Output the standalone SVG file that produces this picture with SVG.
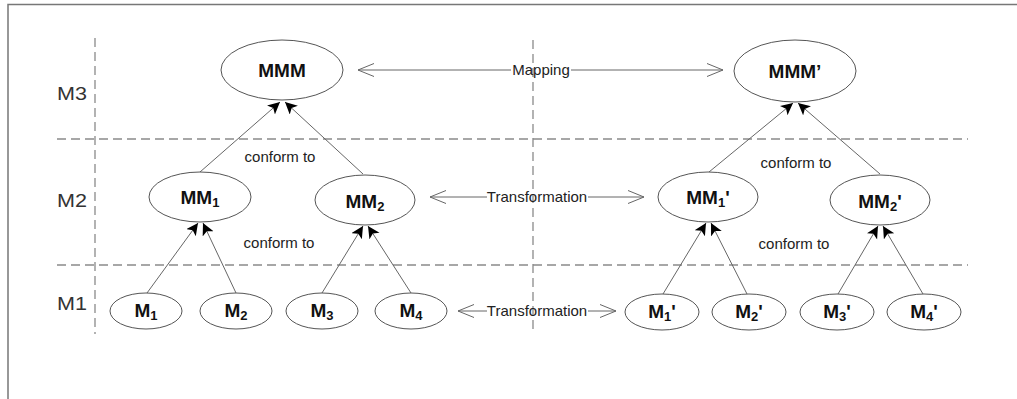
<svg xmlns="http://www.w3.org/2000/svg" width="1017" height="399" viewBox="0 0 1017 399">
<style>
.frame{fill:none;stroke:#777;stroke-width:1.5}
.dash{fill:none;stroke:#8a8a8a;stroke-width:1.3;stroke-dasharray:9 5}
.node ellipse{fill:#fff;stroke:#555;stroke-width:1}
.lbl{font-family:"Liberation Sans",Arial,sans-serif;font-weight:bold;font-size:19px;fill:#111;text-anchor:middle}
.sub{font-size:13px}
.lvl{font-family:"Liberation Sans",Arial,sans-serif;font-size:19px;fill:#333}
.small{font-family:"Liberation Sans",Arial,sans-serif;font-size:15px;fill:#222;text-anchor:middle}
.conn{fill:none;stroke:#666;stroke-width:1}
.harr{fill:none;stroke:#666;stroke-width:1}
</style>
<defs>
<marker id="fa" markerUnits="userSpaceOnUse" markerWidth="16" markerHeight="14" refX="12" refY="6" orient="auto">
<path d="M0,0 L12,6 L0,12 L3,6 Z" fill="#000"/>
</marker>
<marker id="oa" markerUnits="userSpaceOnUse" markerWidth="18" markerHeight="16" refX="16" refY="7" orient="auto-start-reverse">
<path d="M0,0.5 L16,7 L0,13.5" fill="none" stroke="#666" stroke-width="1"/>
</marker>
</defs>
<g id="frame">
<path class="frame" d="M8,399 L8,4.5 L1017,4.5"/>
</g>
<g id="grid">
<line class="dash" x1="95" y1="38" x2="95" y2="334"/>
<line class="dash" x1="533" y1="40" x2="533" y2="334"/>
<line class="dash" x1="57" y1="139" x2="968" y2="139"/>
<line class="dash" x1="57" y1="265" x2="968" y2="265"/>
<text class="lvl" x="57" y="100" textLength="30" lengthAdjust="spacingAndGlyphs">M3</text>
<text class="lvl" x="57" y="207" textLength="30" lengthAdjust="spacingAndGlyphs">M2</text>
<text class="lvl" x="57" y="310" textLength="30" lengthAdjust="spacingAndGlyphs">M1</text>
</g>
<g id="connectors">
<line class="conn" x1="200" y1="172" x2="280" y2="102" marker-end="url(#fa)"/>
<line class="conn" x1="363" y1="174" x2="285" y2="102" marker-end="url(#fa)"/>
<line class="conn" x1="147" y1="293" x2="198" y2="223" marker-end="url(#fa)"/>
<line class="conn" x1="236" y1="293" x2="203" y2="223" marker-end="url(#fa)"/>
<line class="conn" x1="322" y1="293" x2="363" y2="226" marker-end="url(#fa)"/>
<line class="conn" x1="411" y1="293" x2="368" y2="226" marker-end="url(#fa)"/>
<line class="conn" x1="709" y1="172" x2="793" y2="103" marker-end="url(#fa)"/>
<line class="conn" x1="880" y1="174" x2="798" y2="103" marker-end="url(#fa)"/>
<line class="conn" x1="663" y1="294" x2="706" y2="223" marker-end="url(#fa)"/>
<line class="conn" x1="747" y1="294" x2="711" y2="223" marker-end="url(#fa)"/>
<line class="conn" x1="838" y1="294" x2="878" y2="226" marker-end="url(#fa)"/>
<line class="conn" x1="923" y1="294" x2="883" y2="226" marker-end="url(#fa)"/>
<text class="small" x="280" y="162">conform to</text>
<text class="small" x="279" y="248">conform to</text>
<text class="small" x="796" y="168">conform to</text>
<text class="small" x="794" y="249">conform to</text>
<line class="harr" x1="358" y1="70" x2="511" y2="70" marker-start="url(#oa)"/>
<line class="harr" x1="571" y1="70" x2="723" y2="70" marker-end="url(#oa)"/>
<text class="small" x="541" y="75">Mapping</text>
<line class="harr" x1="430" y1="197" x2="487" y2="197" marker-start="url(#oa)"/>
<line class="harr" x1="588" y1="197" x2="644" y2="197" marker-end="url(#oa)"/>
<text class="small" x="537" y="202">Transformation</text>
<line class="harr" x1="458" y1="311" x2="487" y2="311" marker-start="url(#oa)"/>
<line class="harr" x1="588" y1="311" x2="616" y2="311" marker-end="url(#oa)"/>
<text class="small" x="537" y="316">Transformation</text>
</g>
<g id="MMM" class="node"><ellipse cx="282" cy="70" rx="61" ry="30"/><text class="lbl" x="282" y="77">MMM</text></g>
<g id="MMMp" class="node"><ellipse cx="795" cy="71" rx="61" ry="31"/><text class="lbl" x="795" y="78">MMM’</text></g>
<g id="MM1" class="node"><ellipse cx="200" cy="197" rx="51" ry="25"/><text class="lbl" x="200" y="204">MM<tspan class="sub" dy="3">1</tspan></text></g>
<g id="MM2" class="node"><ellipse cx="365" cy="200" rx="50" ry="25"/><text class="lbl" x="365" y="208">MM<tspan class="sub" dy="3">2</tspan></text></g>
<g id="MM1p" class="node"><ellipse cx="708" cy="197" rx="50" ry="25"/><text class="lbl" x="708" y="204">MM<tspan class="sub" dy="3">1</tspan><tspan dy="-3">'</tspan></text></g>
<g id="MM2p" class="node"><ellipse cx="880" cy="200" rx="50" ry="25"/><text class="lbl" x="880" y="208">MM<tspan class="sub" dy="3">2</tspan><tspan dy="-3">'</tspan></text></g>
<g id="M1" class="node"><ellipse cx="146" cy="311" rx="36" ry="18"/><text class="lbl" x="146" y="317">M<tspan class="sub" dy="3">1</tspan></text></g>
<g id="M2" class="node"><ellipse cx="236" cy="311" rx="36" ry="18"/><text class="lbl" x="236" y="317">M<tspan class="sub" dy="3">2</tspan></text></g>
<g id="M3" class="node"><ellipse cx="322" cy="311" rx="36" ry="18"/><text class="lbl" x="322" y="317">M<tspan class="sub" dy="3">3</tspan></text></g>
<g id="M4" class="node"><ellipse cx="411" cy="311" rx="36" ry="18"/><text class="lbl" x="411" y="317">M<tspan class="sub" dy="3">4</tspan></text></g>
<g id="M1p" class="node"><ellipse cx="662" cy="312" rx="37" ry="18"/><text class="lbl" x="662" y="318">M<tspan class="sub" dy="3">1</tspan><tspan dy="-3">'</tspan></text></g>
<g id="M2p" class="node"><ellipse cx="749" cy="312" rx="37" ry="18"/><text class="lbl" x="749" y="318">M<tspan class="sub" dy="3">2</tspan><tspan dy="-3">'</tspan></text></g>
<g id="M3p" class="node"><ellipse cx="837" cy="312" rx="37" ry="18"/><text class="lbl" x="837" y="318">M<tspan class="sub" dy="3">3</tspan><tspan dy="-3">'</tspan></text></g>
<g id="M4p" class="node"><ellipse cx="924" cy="312" rx="37" ry="18"/><text class="lbl" x="924" y="318">M<tspan class="sub" dy="3">4</tspan><tspan dy="-3">'</tspan></text></g>
</svg>
